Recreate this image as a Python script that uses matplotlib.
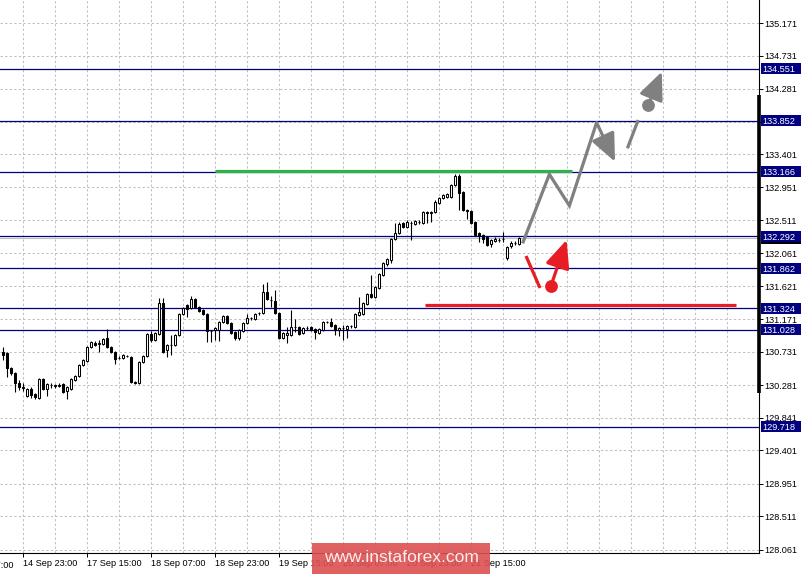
"""USDJPY H1 chart with analyst forecast drawing (MT4 style)."""
import matplotlib
matplotlib.use('Agg')
import matplotlib.pyplot as plt
import matplotlib.patches as mpatches
import matplotlib.transforms as mtransforms

plt.rcParams['font.family'] = ['Liberation Sans', 'DejaVu Sans']

# ── Data: hourly candles ──────────────────────────────────────────────────────
opens = [
    130.730, 130.717, 130.514, 130.447, 130.312, 130.258, 130.136, 130.231, 130.163, 130.109,
    130.366, 130.231, 130.285, 130.285, 130.271, 130.298, 130.204, 130.231, 130.352, 130.406,
    130.555, 130.609, 130.798, 130.852, 130.838, 130.838, 130.919, 130.798, 130.730, 130.649,
    130.649, 130.676, 130.663, 130.325, 130.312, 130.595, 130.676, 130.973, 130.892, 130.973,
    131.392, 130.757, 130.825, 130.825, 130.960, 131.243, 131.365, 131.324, 131.446, 131.338,
    131.297, 131.243, 131.014, 131.027, 131.027, 131.135, 131.216, 131.122, 131.000, 130.919,
    131.014, 131.122, 131.189, 131.176, 131.257, 131.257, 131.540, 131.432, 131.419, 131.257,
    130.919, 130.960, 130.960, 131.068, 131.068, 130.987, 131.054, 131.068, 131.041, 130.987,
    131.027, 131.135, 131.135, 131.095, 131.027, 131.054, 131.041, 131.081, 131.068, 131.230,
    131.243, 131.378, 131.513, 131.473, 131.594, 131.770, 131.918, 131.972, 132.256, 132.337,
    132.472, 132.418, 132.472, 132.458, 132.485, 132.472, 132.620, 132.607, 132.620, 132.742,
    132.809, 132.823, 132.823, 132.985, 133.106, 132.890, 132.647, 132.634, 132.485, 132.337,
    132.310, 132.283, 132.188, 132.229, 132.242, 132.256, 131.999, 132.161, 132.202, 132.188,
]
highs = [
    130.798, 130.730, 130.528, 130.460, 130.352, 130.312, 130.244, 130.258, 130.177, 130.379,
    130.379, 130.312, 130.312, 130.298, 130.312, 130.312, 130.271, 130.379, 130.420, 130.568,
    130.636, 130.811, 130.879, 130.879, 130.892, 130.919, 131.041, 130.811, 130.744, 130.676,
    130.703, 130.690, 130.676, 130.339, 130.609, 130.690, 130.987, 131.014, 131.000, 131.459,
    131.459, 130.838, 130.960, 130.973, 131.257, 131.338, 131.378, 131.486, 131.459, 131.351,
    131.311, 131.257, 131.027, 131.068, 131.149, 131.230, 131.230, 131.135, 131.014, 131.041,
    131.135, 131.243, 131.203, 131.257, 131.270, 131.648, 131.675, 131.486, 131.567, 131.270,
    131.000, 131.068, 131.297, 131.176, 131.081, 131.068, 131.081, 131.081, 131.054, 131.054,
    131.149, 131.149, 131.189, 131.108, 131.068, 131.095, 131.095, 131.095, 131.257, 131.473,
    131.405, 131.527, 131.770, 131.621, 131.797, 131.945, 131.999, 132.269, 132.472, 132.485,
    132.485, 132.512, 132.499, 132.512, 132.512, 132.634, 132.634, 132.634, 132.782, 132.823,
    132.863, 132.877, 132.998, 133.133, 133.133, 132.904, 132.661, 132.647, 132.499, 132.350,
    132.323, 132.296, 132.256, 132.283, 132.269, 132.350, 132.161, 132.229, 132.229, 132.283,
]
lows = [
    130.622, 130.393, 130.420, 130.190, 130.217, 130.204, 130.123, 130.109, 130.096, 130.096,
    130.217, 130.136, 130.244, 130.244, 130.258, 130.177, 130.096, 130.217, 130.339, 130.393,
    130.541, 130.595, 130.784, 130.811, 130.730, 130.825, 130.784, 130.717, 130.568, 130.636,
    130.636, 130.663, 130.312, 130.298, 130.298, 130.582, 130.663, 130.865, 130.879, 130.960,
    130.717, 130.663, 130.690, 130.811, 130.946, 131.230, 131.203, 131.311, 131.324, 131.270,
    131.230, 130.865, 130.865, 130.892, 130.879, 131.122, 131.108, 130.973, 130.892, 130.892,
    131.000, 131.108, 131.162, 131.162, 131.230, 131.243, 131.432, 131.338, 131.243, 130.906,
    130.906, 130.852, 130.946, 131.000, 130.960, 130.973, 131.027, 131.014, 130.906, 130.973,
    131.014, 131.122, 131.068, 130.960, 130.946, 130.892, 130.919, 131.054, 131.054, 131.216,
    131.230, 131.365, 131.459, 131.459, 131.581, 131.756, 131.891, 131.932, 132.242, 132.323,
    132.404, 132.404, 132.242, 132.445, 132.458, 132.458, 132.472, 132.485, 132.607, 132.728,
    132.796, 132.809, 132.809, 132.971, 132.647, 132.634, 132.526, 132.458, 132.296, 132.215,
    132.202, 132.161, 132.148, 132.215, 132.215, 132.215, 131.972, 132.134, 132.175, 132.175,
]
closes = [
    130.690, 130.514, 130.447, 130.312, 130.258, 130.244, 130.231, 130.150, 130.123, 130.366,
    130.231, 130.298, 130.290, 130.271, 130.285, 130.190, 130.258, 130.366, 130.406, 130.555,
    130.622, 130.798, 130.865, 130.825, 130.845, 130.906, 130.798, 130.730, 130.636, 130.655,
    130.690, 130.670, 130.325, 130.312, 130.595, 130.676, 130.973, 130.892, 130.987, 131.392,
    130.730, 130.825, 130.820, 130.960, 131.243, 131.324, 131.311, 131.446, 131.338, 131.284,
    131.243, 131.014, 131.020, 131.054, 131.135, 131.216, 131.122, 130.987, 130.919, 131.027,
    131.122, 131.189, 131.195, 131.243, 131.250, 131.540, 131.446, 131.438, 131.257, 130.919,
    130.987, 130.987, 131.068, 131.062, 130.973, 131.054, 131.060, 131.027, 131.000, 131.041,
    131.135, 131.130, 131.081, 131.027, 131.054, 131.060, 131.081, 131.075, 131.243, 131.270,
    131.392, 131.513, 131.473, 131.608, 131.783, 131.932, 131.985, 132.256, 132.337, 132.458,
    132.418, 132.485, 132.466, 132.499, 132.480, 132.620, 132.607, 132.620, 132.755, 132.809,
    132.850, 132.863, 132.985, 133.106, 132.877, 132.647, 132.634, 132.472, 132.310, 132.296,
    132.256, 132.175, 132.242, 132.256, 132.236, 132.250, 132.148, 132.202, 132.196, 132.269,
]

time_labels = ['14 Sep 07:00', '14 Sep 23:00', '17 Sep 15:00', '18 Sep 07:00',
               '18 Sep 23:00', '19 Sep 15:00', '20 Sep 07:00', '20 Sep 23:00',
               '21 Sep 15:00']
label_bars = [-11, 5, 21, 37, 53, 69, 85, 101, 117]

price_ticks = [135.171, 134.731, 134.281, 133.841, 133.401, 132.951, 132.511,
               132.061, 131.621, 131.171, 130.731, 130.281, 129.841, 129.401,
               128.951, 128.511, 128.061]
levels = [134.551, 133.852, 133.166, 132.292, 131.862, 131.324, 131.028, 129.718]

# analyst drawing (bar index, price)
green_level, green_from, green_to = 133.175, 53, 142.2
red_level, red_from, red_to = 131.358, 105.5, 183.3
gray_path_x = [129.9, 136.6, 141.6, 148.4]
gray_path_y = [132.197, 133.129, 132.705, 133.826]
gray_tip = (153.0, 133.299)
gray_seg_x = [156.1, 158.8]
gray_seg_y = [133.480, 133.862]
gray_dot = (161.3, 134.065)
gray_dot_tip = (164.7, 134.514)
red_seg_x = [130.75, 134.25]
red_seg_y = [132.026, 131.594]
red_dot = (137.0, 131.625)
red_dot_tip = (140.9, 132.242)

NAVY = '#000080'
GRID = '#c0c0c0'
GRAY = '#808080'
RED = '#e81c24'
GREEN = '#30b24a'

W, H = 802, 574
fig = plt.figure(figsize=(W / 100, H / 100), dpi=100)
fig.patch.set_facecolor('white')
ax = fig.add_axes([0, 21 / H, 759 / W, 553 / H])
ax.set_xlim(-0.75, 189.0)
ax.set_ylim(128.0165, 135.482)

for s in ('top', 'left'):
    ax.spines[s].set_visible(False)
for s in ('right', 'bottom'):
    ax.spines[s].set_linewidth(0.8)
    ax.spines[s].set_color('black')

# ── Grid ──────────────────────────────────────────────────────────────────────
for gx in range(5, 189, 8):
    ax.axvline(gx, color=GRID, lw=0.75, dashes=(2.2, 2.2), zorder=1)
for gy in price_ticks:
    ax.axhline(gy, color=GRID, lw=0.75, dashes=(2.2, 2.2), zorder=1)

# ── Ticks ─────────────────────────────────────────────────────────────────────
ax.yaxis.tick_right()
ax.set_yticks(price_ticks)
ax.set_yticklabels([f'{v:.3f}' for v in price_ticks])
ax.tick_params(axis='y', length=3, width=0.7, pad=0.8, labelsize=6.6, colors='black')

vis = [(b, t) for b, t in zip(label_bars, time_labels) if b >= 0]
ax.set_xticks([b for b, _ in vis])
ax.set_xticklabels([t for _, t in vis], ha='left')
ax.tick_params(axis='x', length=3, width=0.7, pad=1.5, labelsize=6.6, colors='black')
for b, t in zip(label_bars, time_labels):
    if b < 0:
        ax.text(b, -0.014, t, transform=ax.get_xaxis_transform(), ha='left',
                va='top', fontsize=6.6, clip_on=False)

# ── Level lines ───────────────────────────────────────────────────────────────
bid = closes[-1]
ax.axhline(bid, color=GRID, lw=0.8, zorder=1.5)
for lv in levels:
    ax.axhline(lv, color=NAVY, lw=0.9, zorder=2)

# ── Candles ───────────────────────────────────────────────────────────────────
xs = list(range(len(closes)))
ax.vlines(xs, lows, highs, color='black', lw=0.8, zorder=3)
bottoms = [min(o, c) for o, c in zip(opens, closes)]
heights = [abs(c - o) for o, c in zip(opens, closes)]
faces = ['white' if c >= o else 'black' for o, c in zip(opens, closes)]
ax.bar(xs, heights, bottom=bottoms, width=0.62, color=faces,
       edgecolor='black', linewidth=0.75, zorder=3.2)

# ── Analyst drawing ───────────────────────────────────────────────────────────
ax.plot([green_from, green_to], [green_level] * 2, color=GREEN, lw=2.3,
        solid_capstyle='butt', zorder=4)
ax.plot([red_from, red_to], [red_level] * 2, color=RED, lw=2.3,
        solid_capstyle='butt', zorder=4)

line_kw = dict(lw=2.3, solid_capstyle='butt', solid_joinstyle='miter', zorder=5)
ax.plot(gray_path_x, gray_path_y, color=GRAY, **line_kw)
ax.plot(gray_seg_x, gray_seg_y, color=GRAY, **line_kw)
ax.plot(red_seg_x, red_seg_y, color=RED, **line_kw)


def arrow(start, tip, color):
    ax.annotate('', xy=tip, xytext=start,
                arrowprops=dict(arrowstyle='-|>,head_length=1.7,head_width=0.75',
                                mutation_scale=10, color=color, lw=2.3,
                                shrinkA=0, shrinkB=0), zorder=5)


arrow((gray_path_x[-1], gray_path_y[-1]), gray_tip, GRAY)
arrow(gray_dot, gray_dot_tip, GRAY)
arrow(red_dot, red_dot_tip, RED)
ax.scatter([gray_dot[0]], [gray_dot[1]], s=85, color=GRAY, zorder=6, linewidths=0)
ax.scatter([red_dot[0]], [red_dot[1]], s=85, color=RED, zorder=6, linewidths=0)

# ── Price label boxes on the right scale ──────────────────────────────────────
ytr = mtransforms.blended_transform_factory(ax.transAxes, ax.transData)
px = (135.482 - 128.0165) / 553   # price per pixel
box_w = 40 / 759
ax.plot([1.0, 1.0], [134.200, 130.177], transform=ytr, color='black', lw=2.6,
        clip_on=False, zorder=2.6, solid_capstyle='butt')
ax.add_patch(mpatches.Rectangle((1.0026, bid - 6 * px), box_w, 12 * px,
                                transform=ytr, facecolor='black', edgecolor='none',
                                clip_on=False, zorder=6))
for lv in levels:
    ax.add_patch(mpatches.Rectangle((1.0026, lv - 5.5 * px), box_w, 11 * px,
                                    transform=ytr, facecolor=NAVY, edgecolor='none',
                                    clip_on=False, zorder=7))
    ax.text(1.0045, lv, f'{lv:.3f}', transform=ytr, color='white', fontsize=6.6,
            ha='left', va='center_baseline', clip_on=False, zorder=8)

# ── Watermark ─────────────────────────────────────────────────────────────────
fig.patches.append(mpatches.Rectangle((312 / W, 0), 178 / W, 31 / H,
                                      transform=fig.transFigure, facecolor='#dc5050',
                                      edgecolor='none', alpha=0.9, zorder=10))
fig.text(401 / W, 16 / H, 'www.instaforex.com', ha='center', va='center',
         fontsize=12.5, color='#fbeeee', zorder=11)

fig.savefig('out.png', dpi=100, facecolor='white')
